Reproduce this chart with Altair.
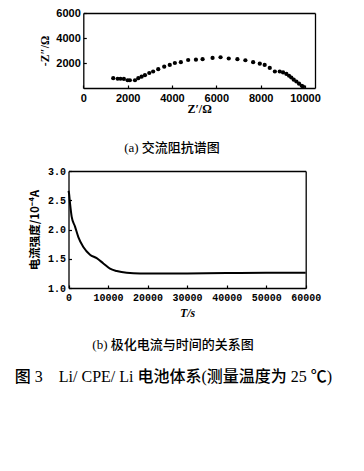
import altair as alt
import pandas as pd

# (a) AC impedance spectrum
z_re = [1350, 1550, 1680, 1830, 2000, 2100, 2330, 2480, 2630, 2780, 2975, 3150, 3380, 3650,
        3900, 4130, 4400, 4730, 5080, 5380, 5830, 6190, 6560, 6950, 7310, 7660, 7960, 8180,
        8410, 8640, 8860, 9010, 9160, 9280, 9380, 9490, 9610, 9730, 9850, 9910]
z_im = [785, 740, 740, 730, 620, 620, 620, 785, 910, 1030, 1200, 1320, 1510, 1710,
        1850, 2000, 2070, 2240, 2270, 2310, 2410, 2460, 2360, 2310, 2220, 2070, 1950, 1850,
        1610, 1320, 1320, 1250, 1130, 980, 840, 670, 520, 350, 180, 110]

# (b) polarisation current vs time
t_s = [0, 130, 380, 800, 1650, 2490, 3750, 5440, 7130, 8820, 10500, 12200, 14730, 18100,
       30000, 40000, 50000, 60000]
cur = [2.66, 2.62, 2.45, 2.22, 2.05, 1.87, 1.70, 1.57, 1.51, 1.42, 1.33, 1.29, 1.26, 1.25,
       1.25, 1.255, 1.26, 1.26]

imp_x_ticks = [0, 2000, 4000, 6000, 8000, 10000]
imp_y_ticks = [2000, 4000, 6000]
pol_x_ticks = [0, 10000, 20000, 30000, 40000, 50000, 60000]
pol_y_ticks = [1.0, 1.5, 2.0, 2.5, 3.0]

imp_x_title = "Z′/Ω"
imp_y_title = "-Z″/Ω"
pol_x_title = "T/s"
pol_y_title = "电流强度/10⁻⁴A"
captions = ["(a) 交流阻抗谱图", "(b) 极化电流与时间的关系图",
            "图 3\u2002\u2002Li/ CPE/ Li 电池体系(测量温度为 25 ℃)"]

W, H = 348, 455

imp = pd.DataFrame({"zr": z_re, "zi": z_im})
pol = pd.DataFrame({"t": t_s, "i": cur})


def panel(chart, xf, yf, xdom, xr, ydom, yr, xticks, yticks, xtitle, ytitle,
          lab_font, lab_size, yfmt, xtitle_style, ytitle_font, ytitle_x, xtitle_y):
    left, right = xr
    bottom, top = yr

    def sx():
        return alt.Scale(domain=xdom, range=[left, right], nice=False, zero=False)

    def sy():
        return alt.Scale(domain=ydom, range=[bottom, top], nice=False, zero=False)

    main = chart.encode(
        x=alt.X(xf, type="quantitative", scale=sx(),
                axis=alt.Axis(orient="bottom", offset=bottom - H, values=xticks,
                              ticks=False, tickSize=0, labelPadding=4, format="d",
                              labelOverlap=False, labelFlush=False,
                              labelFont=lab_font, labelFontSize=lab_size, labelFontWeight="bold",
                              title=xtitle, titleFont="Liberation Serif", titleFontSize=12,
                              titleFontWeight="bold", titleFontStyle=xtitle_style,
                              titleY=xtitle_y, titleBaseline="middle")),
        y=alt.Y(yf, type="quantitative", scale=sy(),
                axis=alt.Axis(orient="left", offset=-left, values=yticks,
                              ticks=False, tickSize=0, labelPadding=3, format=yfmt,
                              labelOverlap=False, labelFlush=False,
                              labelFont=lab_font, labelFontSize=lab_size, labelFontWeight="bold",
                              title=ytitle, titleFont=ytitle_font, titleFontSize=11.5,
                              titleFontWeight="bold", titleX=ytitle_x, titleBaseline="middle")),
    )
    frame = alt.Chart(chart.data).mark_point(opacity=0).encode(
        x=alt.X(xf, type="quantitative", scale=sx(),
                axis=alt.Axis(orient="top", offset=-top, labels=False, ticks=False,
                              tickSize=0, title=None)),
        y=alt.Y(yf, type="quantitative", scale=sy(),
                axis=alt.Axis(orient="right", offset=right - W, labels=False, ticks=False,
                              tickSize=0, title=None)),
    )
    ticks = alt.Chart(chart.data).mark_point(opacity=0).encode(
        x=alt.X(xf, type="quantitative", scale=sx(),
                axis=alt.Axis(orient="top", offset=-bottom, labels=False, values=xticks,
                              domain=False, tickSize=3, title=None)),
        y=alt.Y(yf, type="quantitative", scale=sy(),
                axis=alt.Axis(orient="right", offset=left - W, labels=False, values=yticks,
                              domain=False, tickSize=3, title=None)),
    )
    return [main, frame, ticks]


top_layers = panel(
    alt.Chart(imp).mark_circle(size=18, color="black", opacity=1),
    "zr", "zi", [0, 10450], (75.3, 307.0), [0, 6000], (80, 5),
    imp_x_ticks, imp_y_ticks, imp_x_title, imp_y_title,
    "Liberation Sans", 11, "d", "normal", "Liberation Serif", -38, 20)

bot_layers = panel(
    alt.Chart(pol).mark_line(color="black", strokeWidth=2, interpolate="monotone"),
    "t", "i", [0, 60000], (60.5, 297.7), [1, 3], (280, 163),
    pol_x_ticks, pol_y_ticks, pol_x_title, pol_y_title,
    "Liberation Mono", 10, ".1f", "italic", "Noto Sans CJK SC", -33, 24)


def caption(text, x, y, size, align="center"):
    return alt.Chart(pd.DataFrame({"c": [text]})).mark_text(
        font="Liberation Serif, Noto Sans CJK SC", fontSize=size, fontWeight=500,
        align=align, baseline="middle", color="black"
    ).encode(text="c:N", x=alt.value(x), y=alt.value(y))


cap_layers = [
    caption(captions[0], 164, 140, 13),
    caption(captions[1], 165, 337, 13),
    caption(captions[2], 165.5, 369, 16),
]

chart = alt.layer(*top_layers, *bot_layers, *cap_layers).resolve_scale(
    x="independent", y="independent"
).properties(
    width=W, height=H, autosize=alt.AutoSizeParams(type="none"), padding=0
).configure_view(stroke=None).configure_axis(
    grid=False, domainColor="black", domainWidth=1.3, tickColor="black",
    labelColor="black", titleColor="black", tickWidth=1.2
)

chart.save("out.html", embed_options={"renderer": "svg", "actions": False})
